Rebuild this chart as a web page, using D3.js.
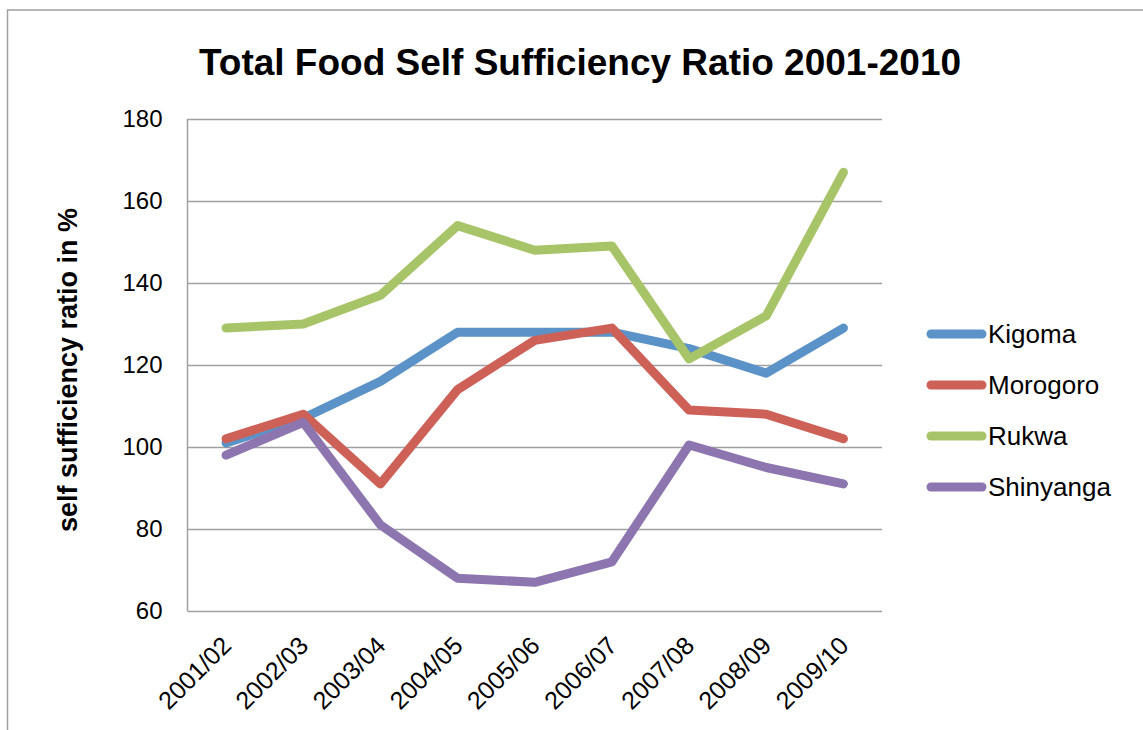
<!DOCTYPE html>
<html>
<head>
<meta charset="utf-8">
<script src="https://cdn.jsdelivr.net/npm/d3@7"></script>
<style>
  html, body { margin: 0; padding: 0; background: #fff; }
  svg { display: block; font-family: "Liberation Sans", Arial, sans-serif; }
</style>
</head>
<body>
<svg id="chart" width="1143" height="730"></svg>
<script>
const categories = ["2001/02","2002/03","2003/04","2004/05","2005/06","2006/07","2007/08","2008/09","2009/10"];
const seriesNames = ["Kigoma","Morogoro","Rukwa","Shinyanga"];
const kigoma    = [101, 107, 116, 128, 128, 128, 124, 118, 129];
const morogoro  = [102, 108, 91, 114, 126, 129, 109, 108, 102];
const rukwa     = [129, 130, 137, 154, 148, 149, 121.5, 132, 167];
const shinyanga = [98, 106, 81, 68, 67, 72, 100.5, 95, 91];
const yTicks = [60, 80, 100, 120, 140, 160, 180];
const colors = ["#5b93c8", "#cd6158", "#a8c468", "#8d76b0"];
const titleText = "Total Food Self Sufficiency Ratio 2001-2010";
const yTitleText = "self sufficiency ratio in %";

const series = [kigoma, morogoro, rukwa, shinyanga].map((vals, i) => ({name: seriesNames[i], values: vals, color: colors[i]}));

const svg = d3.select("#chart");
const plot = {left: 187.5, right: 882, top: 119, bottom: 611};

// outer chart border (right and bottom edges fall outside the picture)
svg.append("rect")
  .attr("x", 7.5).attr("y", 10)
  .attr("width", 1200).attr("height", 760)
  .attr("fill", "none").attr("stroke", "#a0a0a0").attr("stroke-width", 1.5);

const x = d3.scalePoint().domain(categories).range([plot.left, plot.right]).padding(0.5);
const y = d3.scaleLinear().domain([60, 180]).range([plot.bottom, plot.top]);

// title
svg.append("text")
  .attr("x", 580).attr("y", 75)
  .attr("text-anchor", "middle")
  .attr("font-weight", "bold").attr("font-size", 37)
  .attr("fill", "#000")
  .text(titleText);

// gridlines
const yAxis = d3.axisLeft(y).tickValues(yTicks).tickSize(-(plot.right - plot.left)).tickPadding(25).tickFormat(d3.format("d"));
const gy = svg.append("g").attr("transform", `translate(${plot.left},0)`).call(yAxis);
gy.select(".domain").remove();
gy.selectAll(".tick line").attr("stroke", "#a0a0a0").attr("stroke-width", 1.5);
gy.selectAll(".tick text").attr("font-size", 24).attr("fill", "#000").attr("font-family", "Liberation Sans, Arial, sans-serif");

// left axis line
svg.append("line")
  .attr("x1", plot.left).attr("x2", plot.left)
  .attr("y1", plot.top).attr("y2", plot.bottom)
  .attr("stroke", "#a0a0a0").attr("stroke-width", 1.5);

// x axis labels
const xAxis = d3.axisBottom(x).tickSize(0).tickPadding(0);
const gx = svg.append("g").attr("transform", `translate(0,${plot.bottom})`).call(xAxis);
gx.select(".domain").remove();
gx.selectAll(".tick text")
  .attr("font-size", 25).attr("fill", "#000")
  .attr("font-family", "Liberation Sans, Arial, sans-serif")
  .attr("text-anchor", "end")
  .attr("y", 0).attr("dy", "0.35em")
  .attr("transform", "translate(0,30) rotate(-45)");

// y axis title
svg.append("text")
  .attr("transform", `translate(77,${(plot.top + plot.bottom) / 2 + 5}) rotate(-90)`)
  .attr("text-anchor", "middle")
  .attr("font-weight", "bold").attr("font-size", 27)
  .attr("fill", "#000")
  .text(yTitleText);

// lines
const line = d3.line().x((d, i) => x(categories[i])).y(d => y(d));
svg.append("g").selectAll("path")
  .data(series).join("path")
  .attr("d", d => line(d.values))
  .attr("fill", "none")
  .attr("stroke", d => d.color)
  .attr("stroke-width", 9)
  .attr("stroke-linejoin", "round")
  .attr("stroke-linecap", "round");

// legend
const legend = svg.append("g");
const leg = legend.selectAll("g").data(series).join("g")
  .attr("transform", (d, i) => `translate(0,${334 + i * 51})`);
leg.append("line")
  .attr("x1", 931).attr("x2", 982).attr("y1", 0).attr("y2", 0)
  .attr("stroke", d => d.color).attr("stroke-width", 9).attr("stroke-linecap", "round");
leg.append("text")
  .attr("x", 988).attr("y", 0).attr("dy", "0.36em")
  .attr("font-size", 26).attr("fill", "#000")
  .text(d => d.name);
</script>
</body>
</html>
